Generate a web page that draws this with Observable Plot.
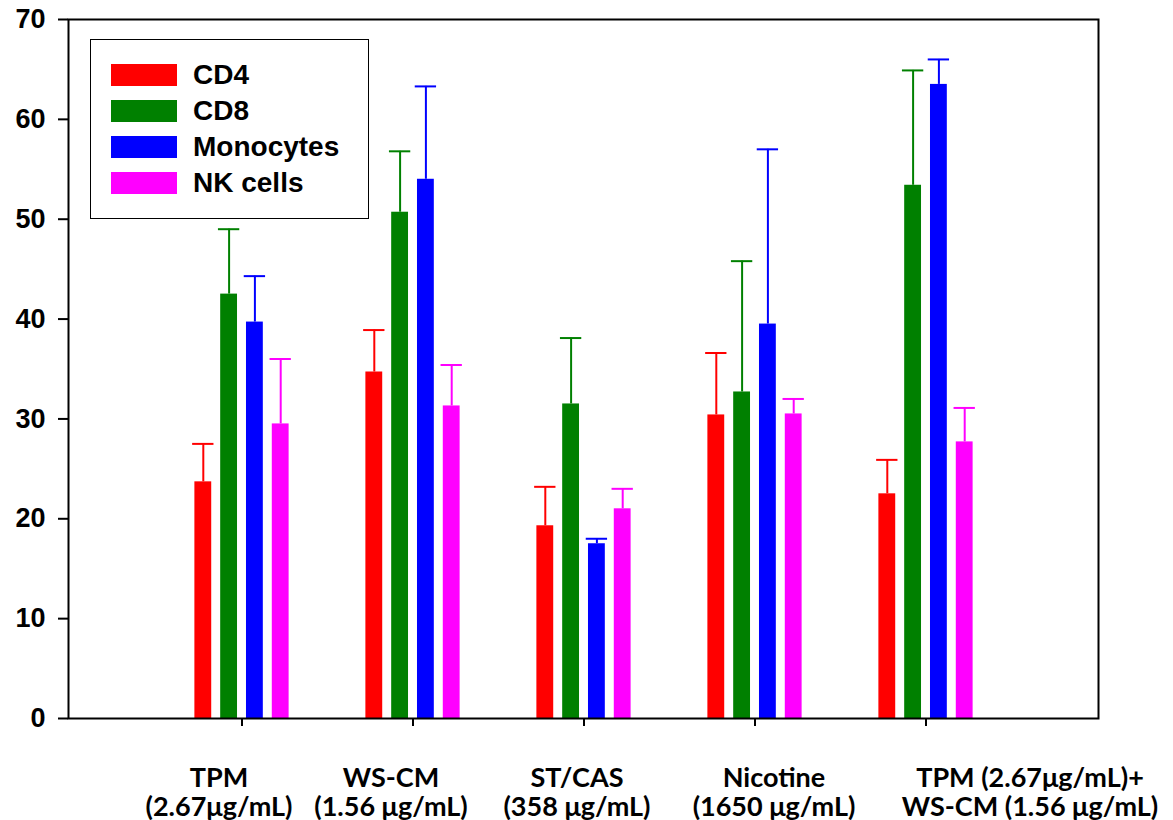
<!DOCTYPE html>
<html>
<head>
<meta charset="utf-8">
<script src="https://cdn.jsdelivr.net/npm/d3@7"></script>
<script src="https://cdn.jsdelivr.net/npm/@observablehq/plot@0.6"></script>
<style>
  html, body { margin: 0; padding: 0; background: #fff; }
  #wrap { position: relative; width: 1173px; height: 820px; }
  #legend {
    position: absolute; left: 90px; top: 39px; width: 277px; height: 178px;
    border: 1.5px solid #000; background: #fff; box-sizing: content-box;
    font-family: "Liberation Sans", Arial, sans-serif; font-weight: bold; font-size: 28px;
  }
  .row { position: absolute; left: 20px; height: 22px; display: flex; align-items: center; line-height: 1; }
  .sw { width: 66px; height: 22px; margin-right: 16px; flex: none; }
</style>
</head>
<body>
<div id="wrap"><div id="legend"></div></div>
<script>
// ---- data ----
const groups = [
  "TPM\n(2.67μg/mL)",
  "WS-CM\n(1.56 μg/mL)",
  "ST/CAS\n(358 μg/mL)",
  "Nicotine\n(1650 μg/mL)",
  "TPM (2.67μg/mL)+\nWS-CM (1.56 μg/mL)"
];
const seriesNames = ["CD4", "CD8", "Monocytes", "NK cells"];
const seriesColors = ["#ff0000", "#008000", "#0000ff", "#ff00ff"];
const cd4 = [23.7, 34.7, 19.3, 30.4, 22.5];
const cd4Err = [3.8, 4.2, 3.9, 6.2, 3.4];
const cd8 = [42.5, 50.7, 31.5, 32.7, 53.4];
const cd8Err = [6.5, 6.1, 6.6, 13.1, 11.5];
const mono = [39.7, 54.0, 17.5, 39.5, 63.5];
const monoErr = [4.6, 9.3, 0.5, 17.5, 2.5];
const nk = [29.5, 31.3, 21.0, 30.5, 27.7];
const nkErr = [6.5, 4.1, 2.0, 1.5, 3.4];
const yTicks = [0, 10, 20, 30, 40, 50, 60, 70];

const values = [cd4, cd8, mono, nk];
const errs = [cd4Err, cd8Err, monoErr, nkErr];

const table = [];
seriesNames.forEach((s, si) => {
  groups.forEach((g, gi) => {
    table.push({series: s, group: g, value: values[si][gi], err: errs[si][gi], hi: values[si][gi] + errs[si][gi]});
  });
});

// ---- layout ----
const W = 1173, H = 820;
const mL = 68, mR = 75, mT = 19, mB = 102;
const band = (W - mL - mR) / (groups.length + 1);
const step = 25.8, barW = 17.5, capW = 22;
const labelShift = [-23, -22, -7, 19, 104]; // horizontal placement of category labels (layout)

const marks = [];
seriesNames.forEach((s, si) => {
  const d = table.filter(r => r.series === s);
  const off = (si - 1.5) * step;
  const col = seriesColors[si];
  marks.push(Plot.ruleX(d, {x: "group", y1: "value", y2: "hi", dx: off, stroke: col, strokeWidth: 2}));
  marks.push(Plot.tickY(d, {x: "group", y: "hi", stroke: col, strokeWidth: 2,
    insetLeft: band / 2 + off - capW / 2, insetRight: band / 2 - off - capW / 2}));
  marks.push(Plot.barY(d, {x: "group", y: "value", fill: col,
    insetLeft: band / 2 + off - barW / 2, insetRight: band / 2 - off - barW / 2}));
});

const labelMarks = groups.map((g, i) => Plot.text([g], {
  x: d => d, text: d => d, frameAnchor: "bottom", lineAnchor: "top",
  dy: 47, dx: labelShift[i], fontSize: 27, fontWeight: "bold",
  fontFamily: "Lato, sans-serif", lineHeight: 1.1, fill: "#000"
}));

const chart = Plot.plot({
  width: W, height: H,
  marginLeft: mL, marginRight: mR, marginTop: mT, marginBottom: mB,
  style: {color: "#000", background: "#fff", overflow: "visible"},
  x: {domain: groups, paddingInner: 0, paddingOuter: 0.5, axis: null},
  y: {domain: [0, 70], axis: null},
  marks: [
    ...marks,
    Plot.frame({stroke: "#000", strokeWidth: 2}),
    Plot.axisY({ticks: yTicks, tickSize: 10, tickPadding: 13, strokeWidth: 2, label: null,
      fontSize: 27, fontWeight: "bold", fontFamily: "Liberation Sans, Arial, sans-serif"}),
    Plot.axisX({tickSize: 8, strokeWidth: 2, label: null, tickFormat: () => ""}),
    ...labelMarks
  ]
});
document.getElementById("wrap").prepend(chart);

// ---- legend ----
const leg = document.getElementById("legend");
seriesNames.forEach((s, i) => {
  const row = document.createElement("div");
  row.className = "row";
  row.style.top = (24 + i * 36) + "px";
  const sw = document.createElement("div");
  sw.className = "sw";
  sw.style.background = seriesColors[i];
  const t = document.createElement("span");
  t.textContent = s;
  row.append(sw, t);
  leg.append(row);
});
</script>
</body>
</html>
